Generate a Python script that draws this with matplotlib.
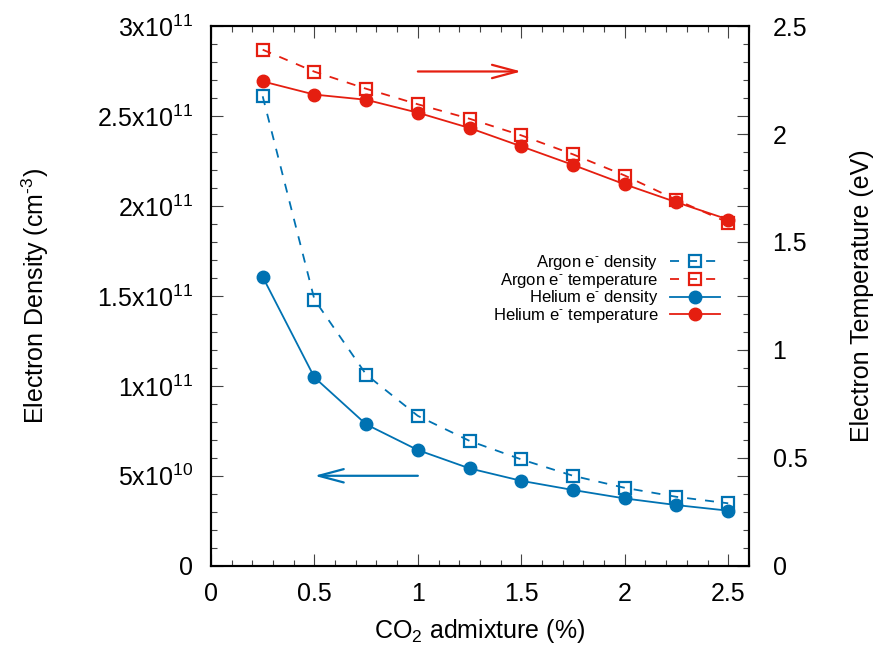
import matplotlib
matplotlib.use("Agg")
import matplotlib.pyplot as plt
from matplotlib.ticker import MultipleLocator, FormatStrFormatter

plt.rcParams["font.family"] = ["Liberation Sans", "DejaVu Sans"]
plt.rcParams["mathtext.fontset"] = "custom"
plt.rcParams["mathtext.rm"] = "Liberation Sans"
plt.rcParams["mathtext.it"] = "Liberation Sans:italic"
plt.rcParams["mathtext.bf"] = "Liberation Sans:bold"

# CO2 admixture (%)
co2 = [0.25, 0.5, 0.75, 1.0, 1.25, 1.5, 1.75, 2.0, 2.25, 2.5]

# electron density (cm^-3)
argon_ne = [2.61e11, 1.48e11, 1.063e11, 8.33e10, 6.94e10, 5.91e10, 5.0e10, 4.33e10, 3.83e10, 3.47e10]
helium_ne = [1.606e11, 1.047e11, 7.86e10, 6.43e10, 5.41e10, 4.72e10, 4.21e10, 3.74e10, 3.37e10, 3.06e10]

# electron temperature (eV)
argon_te = [2.391, 2.289, 2.210, 2.138, 2.071, 1.994, 1.906, 1.808, 1.695, 1.590]
helium_te = [2.244, 2.183, 2.159, 2.099, 2.028, 1.943, 1.857, 1.767, 1.684, 1.604]

y_ticks = [0, 5e10, 1e11, 1.5e11, 2e11, 2.5e11, 3e11]
y_labels = ["0", "5x10$^{10}$", "1x10$^{11}$", "1.5x10$^{11}$",
            "2x10$^{11}$", "2.5x10$^{11}$", "3x10$^{11}$"]
y2_ticks = [0, 0.5, 1, 1.5, 2, 2.5]
y2_labels = ["0", "0.5", "1", "1.5", "2", "2.5"]

blue = "#0072b2"
red = "#e51e10"

fig = plt.figure(figsize=(8.79, 6.54), dpi=100)
ax = fig.add_axes([0.240, 0.135, 0.612, 0.825])
ax2 = ax.twinx()

lw = 1.3
ms = 9

l1, = ax.plot(co2, argon_ne, color=blue, lw=lw, dashes=(5, 5), marker="s",
              ms=ms, mfc="none", mew=1.6, label="Argon e$^{\\text{-}}$ density")
l3, = ax.plot(co2, helium_ne, color=blue, lw=lw, marker="o", ms=ms,
              label="Helium e$^{\\text{-}}$ density")
l2, = ax2.plot(co2, argon_te, color=red, lw=lw, dashes=(5, 5), marker="s",
               ms=ms, mfc="none", mew=1.6, label="Argon e$^{\\text{-}}$ temperature")
l4, = ax2.plot(co2, helium_te, color=red, lw=lw, marker="o", ms=ms,
               label="Helium e$^{\\text{-}}$ temperature")

ax.set_xlim(0, 2.6)
ax.set_ylim(0, 3e11)
ax2.set_ylim(0, 2.5)

ax.xaxis.set_major_locator(MultipleLocator(0.5))
ax.xaxis.set_minor_locator(MultipleLocator(0.1))
ax.xaxis.set_major_formatter(FormatStrFormatter("%g"))
ax.set_yticks(y_ticks)
ax.set_yticklabels(y_labels)
ax.yaxis.set_minor_locator(MultipleLocator(1e10))
ax2.set_yticks(y2_ticks)
ax2.set_yticklabels(y2_labels)

ax.tick_params(which="both", direction="in", top=True, right=False,
               labelsize=18, width=0.8, color="#444444")
ax.tick_params(which="major", length=8.5)
ax.tick_params(which="minor", length=4.3)
ax.tick_params(axis="y", pad=13)
ax.tick_params(axis="x", pad=12)
ax2.tick_params(which="both", direction="in", labelsize=18, width=0.8,
                color="#444444", length=8.5, pad=17)

# mirrored left ticks on the right border
sec = ax.secondary_yaxis("right")
sec.set_yticks(y_ticks)
sec.yaxis.set_minor_locator(MultipleLocator(1e10))
sec.tick_params(which="both", direction="in", labelright=False, width=0.8,
                color="#444444")
sec.tick_params(which="major", length=8.5)
sec.tick_params(which="minor", length=4.3)
sec.spines["right"].set_visible(False)

for a in (ax, ax2):
    for s in a.spines.values():
        s.set_linewidth(1.5)

ax.set_xlabel("CO$_2$ admixture (%)", fontsize=18, labelpad=8)
ax.set_ylabel("Electron Density (cm$^{\\text{-}3}$)", fontsize=18, labelpad=33)
ax2.set_ylabel("Electron Temperature (eV)", fontsize=18, labelpad=31)

ax2.annotate("", xy=(1.5, 2.29), xytext=(1.0, 2.29),
             arrowprops=dict(arrowstyle="->,head_length=1.8,head_width=0.48",
                             color=red, lw=1.6, shrinkA=0, shrinkB=0))
ax.annotate("", xy=(0.5, 5e10), xytext=(1.0, 5e10),
            arrowprops=dict(arrowstyle="->,head_length=1.8,head_width=0.48",
                            color=blue, lw=1.6, shrinkA=0, shrinkB=0))

leg = ax2.legend(handles=[l1, l2, l3, l4], loc="upper right",
                 bbox_to_anchor=(720 / 879, 1 - 253 / 654),
                 bbox_transform=fig.transFigure, frameon=False,
                 markerfirst=False, fontsize=12, numpoints=1,
                 handlelength=3.0, handletextpad=0.7, labelspacing=-0.08,
                 borderpad=0, borderaxespad=0)

fig.savefig("out.png", dpi=100)
